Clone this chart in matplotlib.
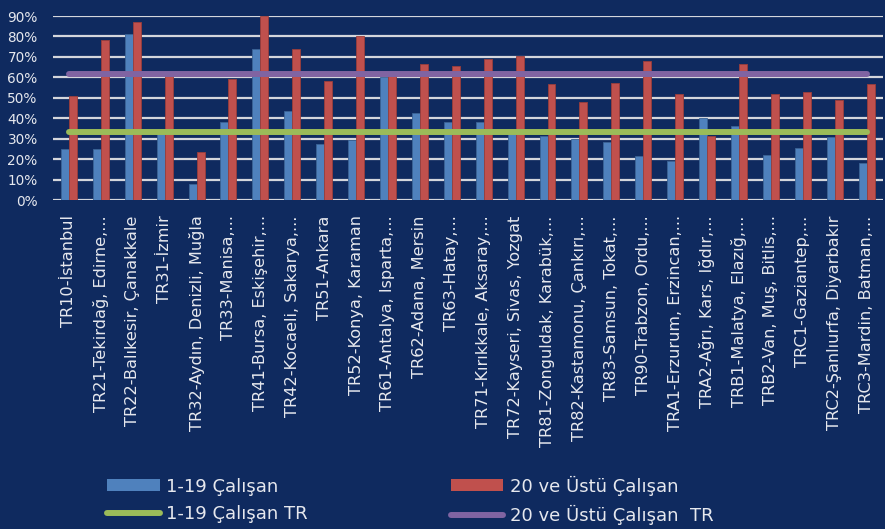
import numpy as np
import matplotlib.pyplot as plt
from matplotlib.patches import Patch
from matplotlib.lines import Line2D

# Regions (NUTS-2)
regions = [
    "TR10-İstanbul", "TR21-Tekirdağ, Edirne,...", "TR22-Balıkesir, Çanakkale",
    "TR31-İzmir", "TR32-Aydın, Denizli, Muğla", "TR33-Manisa,...",
    "TR41-Bursa, Eskişehir,...", "TR42-Kocaeli, Sakarya,...", "TR51-Ankara",
    "TR52-Konya, Karaman", "TR61-Antalya, Isparta,...", "TR62-Adana, Mersin",
    "TR63-Hatay,...", "TR71-Kırıkkale, Aksaray,...", "TR72-Kayseri, Sivas, Yozgat",
    "TR81-Zonguldak, Karabük,...", "TR82-Kastamonu, Çankırı,...", "TR83-Samsun, Tokat,...",
    "TR90-Trabzon, Ordu,...", "TRA1-Erzurum, Erzincan,...", "TRA2-Ağrı, Kars, Iğdır,...",
    "TRB1-Malatya, Elazığ,...", "TRB2-Van, Muş, Bitlis,...", "TRC1-Gaziantep,...",
    "TRC2-Şanlıurfa, Diyarbakır", "TRC3-Mardin, Batman,...",
]

small_firms = [25, 25, 81, 33, 8, 38, 74, 43.5, 27.5, 29.5, 60, 42.5, 38,
               38, 32.5, 31.5, 30, 28.5, 21.5, 19, 40, 36, 22, 25.5, 31, 18]
large_firms = [51, 78.5, 87, 61, 23.5, 59, 90, 74, 58, 80, 61, 66.5, 65.5,
               69, 70.5, 56.5, 48, 57, 68, 52, 31.5, 66.5, 52, 53, 49, 56.5]
small_tr = 33.3
large_tr = 61.8

tick_vals = np.arange(0, 91, 10)

bg = '#0f2a5f'
blue = '#4f81bd'
red = '#c0504d'
green = '#9bbb59'
purple = '#8064a2'
txt = '#e6e8ee'

plt.rcParams['font.family'] = ['DejaVu Sans']

fig = plt.figure(figsize=(8.85, 5.29), dpi=100, facecolor=bg)
ax = fig.add_axes([53 / 885, 1 - 200 / 529, (882.5 - 53) / 885, 184 / 529])
ax.set_facecolor(bg)

x = np.arange(len(regions))
w = 0.25
ax.bar(x - w / 2, small_firms, w, color=blue, edgecolor='#3b6496', linewidth=0.6, zorder=3)
ax.bar(x + w / 2, large_firms, w, color=red, edgecolor='#9a3e3b', linewidth=0.6, zorder=3)

ax.plot(x, [small_tr] * len(x), color=green, lw=4.3, solid_capstyle='round', zorder=4)
ax.plot(x, [large_tr] * len(x), color=purple, lw=4.3, solid_capstyle='round', zorder=4)

ax.set_xlim(-0.5, len(regions) - 0.5)
ax.set_ylim(0, 90)
ax.set_yticks(tick_vals)
ax.set_yticklabels([f'{v}%' for v in tick_vals], color=txt, fontsize=9.8)
ax.yaxis.grid(True, color='#d4d6dc', lw=1.6, zorder=1)
ax.set_axisbelow(True)
ax.tick_params(length=0, pad=11)
for s in ax.spines.values():
    s.set_visible(False)

ax.set_xticks(x)
ax.set_xticklabels(regions, rotation=90, color=txt, fontsize=11.6)
ax.tick_params(axis='x', pad=11)

handles = [
    Patch(facecolor=blue),
    Line2D([0], [0], color=green, lw=4.3, solid_capstyle='round'),
    Patch(facecolor=red),
    Line2D([0], [0], color=purple, lw=4.3, solid_capstyle='round'),
]
labels = ['1-19 Çalışan', '1-19 Çalışan TR', '20 ve Üstü Çalışan', '20 ve Üstü Çalışan  TR']
leg = fig.legend(handles, labels, ncol=2, loc='lower left',
                 bbox_to_anchor=(100 / 885, -3 / 529), frameon=False, borderaxespad=0,
                 fontsize=13, labelcolor=txt, handlelength=2.9, handleheight=0.65,
                 columnspacing=7.95, handletextpad=0.35, labelspacing=0.5)

fig.savefig('out.png', dpi=100, facecolor=bg)
